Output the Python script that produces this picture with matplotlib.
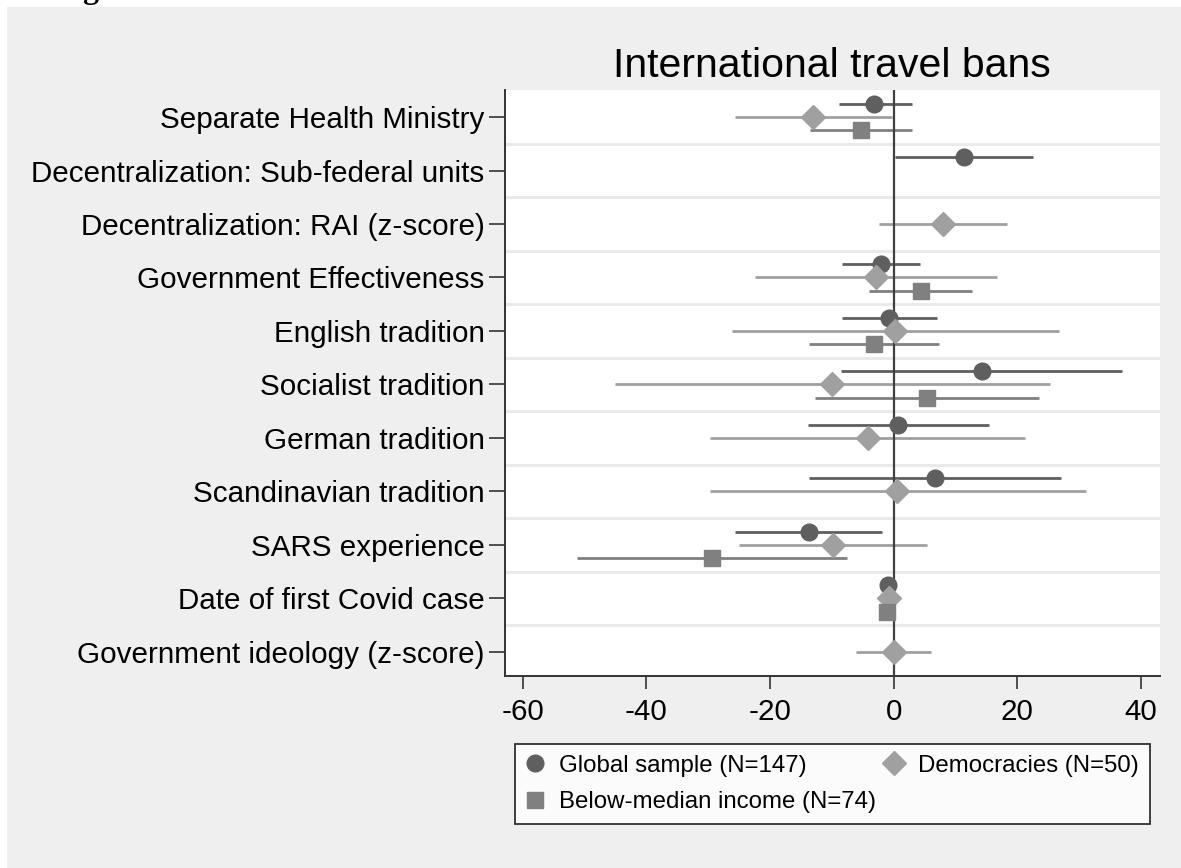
import matplotlib
matplotlib.use("Agg")
import matplotlib.pyplot as plt
from matplotlib.lines import Line2D
from matplotlib.patches import Rectangle
import numpy as np

plt.rcParams['font.family'] = ['Liberation Sans', 'DejaVu Sans']

nan = np.nan
labels = ['Separate Health Ministry', 'Decentralization: Sub-federal units',
          'Decentralization: RAI (z-score)', 'Government Effectiveness',
          'English tradition', 'Socialist tradition', 'German tradition',
          'Scandinavian tradition', 'SARS experience', 'Date of first Covid case',
          'Government ideology (z-score)']

# global sample (N=147)
glob_est = [-3.1, 11.4, nan, -2.1, -0.8, 14.3, 0.75, 6.75, -13.7, -0.9, nan]
glob_lo = [-8.8, 0.25, nan, -8.4, -8.3, -8.5, -13.8, -13.6, -25.6, -1.3, nan]
glob_hi = [2.9, 22.5, nan, 4.2, 7.0, 36.9, 15.4, 27.1, -1.9, -0.5, nan]

# democracies (N=50)
dem_est = [-13.1, nan, 8.0, -2.9, 0.25, -9.9, -4.2, 0.6, -9.8, -0.8, 0.0]
dem_lo = [-25.7, nan, -2.3, -22.4, -26.2, -45.0, -29.7, -29.7, -25.0, -1.2, -6.0]
dem_hi = [-0.3, nan, 18.4, 16.7, 26.7, 25.3, 21.2, 31.1, 5.4, -0.4, 6.0]

# below-median income (N=74)
low_est = [-5.2, nan, nan, 4.4, -3.2, 5.4, nan, nan, -29.3, -1.0, nan]
low_lo = [-13.5, nan, nan, -3.9, -13.6, -12.7, nan, nan, -51.2, -1.4, nan]
low_hi = [3.0, nan, nan, 12.7, 7.3, 23.5, nan, nan, -7.5, -0.6, nan]

series = [
    ('Global sample (N=147)', glob_est, glob_lo, glob_hi, 'o', '#5f5f5f', 12, -0.25),
    ('Democracies (N=50)', dem_est, dem_lo, dem_hi, 'D', '#a0a0a0', 12, 0.0),
    ('Below-median income (N=74)', low_est, low_lo, low_hi, 's', '#808080', 12, 0.25),
]

fig = plt.figure(figsize=(11.81, 8.68), dpi=100)
fig.patch.set_facecolor('white')
fig.patches.append(Rectangle((7 / 1181, 0), 1, 1 - 7 / 868, transform=fig.transFigure,
                             facecolor='#efefef', edgecolor='none', zorder=-10))
# caption of the page, clipped at the top edge like in the original
fig.text(0, 1 + 2 / 868, 'Timing of International travel bans', fontsize=23,
         fontweight='bold', family='Liberation Serif', va='baseline', ha='left')

ax = fig.add_axes([504.6 / 1181, 1 - 676 / 868, (1159.5 - 504.6) / 1181, (676 - 90) / 868])
ax.set_facecolor('white')

ypos = np.arange(len(labels))
for b in ypos[:-1] + 0.5:
    ax.axhline(b, color='#eaeaea', lw=2.2, zorder=1)

handles = []
for name, est, lo, hi, mk, col, ms, off in series:
    est, lo, hi = np.array(est), np.array(lo), np.array(hi)
    ok = ~np.isnan(est)
    y = ypos[ok] + off
    ax.hlines(y, lo[ok], hi[ok], color=col, lw=2.0, zorder=2)
    ax.plot(est[ok], y, ls='none', marker=mk, color=col, ms=ms, mec=col, zorder=4)
    handles.append(Line2D([], [], ls='none', marker=mk, color=col, ms=ms, label=name))

ax.axvline(0, color='#404040', lw=1.6, zorder=3)

ax.set_xlim(-62.9, 43.0)
ax.set_ylim(10.45, -0.505)
ax.set_yticks(ypos)
ax.set_yticklabels(labels, fontsize=21.3)
ax.set_xticks([-60, -40, -20, 0, 20, 40])
ax.set_xticklabels(['-60', '-40', '-20', '0', '20', '40'], fontsize=21.3)
ax.tick_params(axis='y', length=11.5, width=1.2, color='#333333', pad=3)
ax.tick_params(axis='x', length=9, width=1.2, color='#333333', pad=7)
for s in ['top', 'right']:
    ax.spines[s].set_visible(False)
for s in ['left', 'bottom']:
    ax.spines[s].set_linewidth(1.4)
    ax.spines[s].set_color('#333333')

ax.set_title('International travel bans', fontsize=29.5, pad=9.6)

leg = fig.legend(handles=[handles[0], handles[2], handles[1]],
                 labels=[handles[0].get_label(), handles[2].get_label(), handles[1].get_label()],
                 ncol=2, loc='upper left', mode='expand',
                 bbox_to_anchor=(515 / 1181, 1 - 744 / 868, (1150 - 515) / 1181, 0.0),
                 fontsize=17.3, frameon=True, fancybox=False, edgecolor='black',
                 handlelength=0.8, handletextpad=0.6, labelspacing=0.6,
                 borderpad=0.45, borderaxespad=0, columnspacing=1.0)
leg.get_frame().set_linewidth(1.3)

fig.savefig('out.png', dpi=100)
